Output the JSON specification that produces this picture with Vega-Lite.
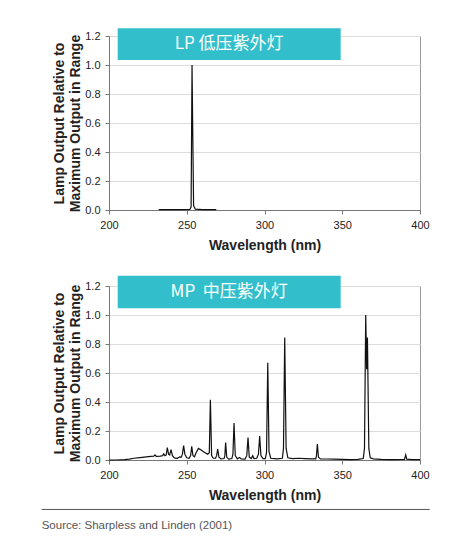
{
  "$schema": "https://vega.github.io/schema/vega-lite/v6.json",
  "padding": {"left": 40, "top": 27, "right": 5, "bottom": 5},
  "bounds": "flush",
  "spacing": 76,
  "datasets": {
    "lp": [
      {"wl": 232, "out": 0.002}, {"wl": 240, "out": 0.002}, {"wl": 248, "out": 0.003},
      {"wl": 252, "out": 0.004}, {"wl": 252.8, "out": 0.02}, {"wl": 253.4, "out": 1.0},
      {"wl": 253.9, "out": 0.5}, {"wl": 254.4, "out": 0.03}, {"wl": 255.5, "out": 0.006},
      {"wl": 260, "out": 0.003}, {"wl": 265, "out": 0.002}, {"wl": 269, "out": 0.002}
    ],
    "mp": [
      {"wl": 200, "out": 0}, {"wl": 205, "out": 0}, {"wl": 210, "out": 0.002},
      {"wl": 213, "out": 0.006}, {"wl": 216, "out": 0.012}, {"wl": 220, "out": 0.017},
      {"wl": 224, "out": 0.022}, {"wl": 227, "out": 0.025}, {"wl": 228.8, "out": 0.026},
      {"wl": 229.6, "out": 0.035}, {"wl": 230.4, "out": 0.025}, {"wl": 233, "out": 0.027},
      {"wl": 234.5, "out": 0.03}, {"wl": 235.2, "out": 0.042}, {"wl": 236, "out": 0.03},
      {"wl": 236.8, "out": 0.035}, {"wl": 237.5, "out": 0.085}, {"wl": 238.3, "out": 0.04},
      {"wl": 239, "out": 0.035}, {"wl": 239.9, "out": 0.072}, {"wl": 240.8, "out": 0.03},
      {"wl": 242, "out": 0.015}, {"wl": 244, "out": 0.012}, {"wl": 245.5, "out": 0.022},
      {"wl": 246.5, "out": 0.02}, {"wl": 247.2, "out": 0.04}, {"wl": 248, "out": 0.1},
      {"wl": 248.8, "out": 0.04}, {"wl": 250, "out": 0.015}, {"wl": 251.5, "out": 0.012},
      {"wl": 252.5, "out": 0.03}, {"wl": 253.2, "out": 0.094}, {"wl": 254, "out": 0.03},
      {"wl": 255, "out": 0.022}, {"wl": 256, "out": 0.05}, {"wl": 257.5, "out": 0.08},
      {"wl": 259, "out": 0.07}, {"wl": 261, "out": 0.055}, {"wl": 263.5, "out": 0.04},
      {"wl": 264.5, "out": 0.05}, {"wl": 265.2, "out": 0.415}, {"wl": 266, "out": 0.03},
      {"wl": 267, "out": 0.012}, {"wl": 268.5, "out": 0.012}, {"wl": 269.2, "out": 0.03},
      {"wl": 269.9, "out": 0.075}, {"wl": 270.7, "out": 0.02}, {"wl": 272, "out": 0.008},
      {"wl": 274, "out": 0.01}, {"wl": 274.5, "out": 0.03}, {"wl": 275, "out": 0.12},
      {"wl": 275.7, "out": 0.02}, {"wl": 277, "out": 0.006}, {"wl": 279, "out": 0.01},
      {"wl": 279.7, "out": 0.04}, {"wl": 280.4, "out": 0.255}, {"wl": 281.2, "out": 0.03},
      {"wl": 282.5, "out": 0.008}, {"wl": 284, "out": 0.018}, {"wl": 285, "out": 0.008},
      {"wl": 287.5, "out": 0.006}, {"wl": 288.6, "out": 0.03}, {"wl": 289.4, "out": 0.155},
      {"wl": 290.2, "out": 0.02}, {"wl": 291.5, "out": 0.01}, {"wl": 292.4, "out": 0.03},
      {"wl": 293.2, "out": 0.01}, {"wl": 295, "out": 0.012}, {"wl": 296.1, "out": 0.04},
      {"wl": 296.9, "out": 0.165}, {"wl": 297.7, "out": 0.03}, {"wl": 299, "out": 0.01},
      {"wl": 300.5, "out": 0.01}, {"wl": 301.3, "out": 0.05}, {"wl": 302.1, "out": 0.67},
      {"wl": 302.9, "out": 0.06}, {"wl": 304, "out": 0.012}, {"wl": 308, "out": 0.008},
      {"wl": 311.5, "out": 0.012}, {"wl": 312.2, "out": 0.08}, {"wl": 313, "out": 0.844},
      {"wl": 313.9, "out": 0.08}, {"wl": 315, "out": 0.015}, {"wl": 318, "out": 0.01},
      {"wl": 322, "out": 0.012}, {"wl": 326, "out": 0.01}, {"wl": 330, "out": 0.008},
      {"wl": 333, "out": 0.008}, {"wl": 333.4, "out": 0.03}, {"wl": 334, "out": 0.11},
      {"wl": 334.7, "out": 0.02}, {"wl": 336, "out": 0.008}, {"wl": 340, "out": 0.007},
      {"wl": 345, "out": 0.006}, {"wl": 350, "out": 0.004}, {"wl": 355, "out": 0.003},
      {"wl": 360, "out": 0.004}, {"wl": 363.5, "out": 0.01}, {"wl": 364.3, "out": 0.08},
      {"wl": 365.1, "out": 1.0}, {"wl": 365.7, "out": 0.626}, {"wl": 366.2, "out": 0.844},
      {"wl": 367.1, "out": 0.08}, {"wl": 368, "out": 0.015}, {"wl": 370, "out": 0.008},
      {"wl": 375, "out": 0.004}, {"wl": 380, "out": 0.003}, {"wl": 385, "out": 0.003},
      {"wl": 390, "out": 0.004}, {"wl": 390.8, "out": 0.036}, {"wl": 391.5, "out": 0.006},
      {"wl": 395, "out": 0.003}, {"wl": 400, "out": 0.003}
    ]
  },
  "vconcat": [
    {
      "width": 311,
      "height": 174,
      "layer": [
        {
          "data": {"name": "lp"},
          "mark": {"type": "line", "color": "#111111", "strokeWidth": 1.2},
          "encoding": {
            "x": {"field": "wl", "type": "quantitative", "scale": {"domain": [200, 400]},
                  "axis": {"values": [200, 250, 300, 350, 400]}, "title": "Wavelength (nm)"},
            "y": {"field": "out", "type": "quantitative", "scale": {"domain": [0, 1.2], "nice": false},
                  "axis": {"values": [0, 0.2, 0.4, 0.6, 0.8, 1.0, 1.2], "format": ".1f"},
                  "title": ["Lamp Output Relative to", "Maximum Output in Range"]}
          }
        },
        {
          "data": {"values": [{}]},
          "mark": {"type": "rect", "color": "#32bfcb"},
          "encoding": {
            "x": {"datum": 205.6, "type": "quantitative"},
            "x2": {"datum": 349.0},
            "y": {"datum": 1.034, "type": "quantitative"},
            "y2": {"datum": 1.253}
          }
        },
        {
          "data": {"values": [{"label": "LP 低压紫外灯"}]},
          "mark": {"type": "text", "color": "white", "font": "Noto Sans CJK SC", "fontSize": 17, "baseline": "middle"},
          "encoding": {
            "text": {"field": "label"},
            "x": {"datum": 277.3, "type": "quantitative"},
            "y": {"datum": 1.143, "type": "quantitative"}
          }
        }
      ]
    },
    {
      "width": 311,
      "height": 174,
      "layer": [
        {
          "data": {"name": "mp"},
          "mark": {"type": "line", "color": "#111111", "strokeWidth": 1.2},
          "encoding": {
            "x": {"field": "wl", "type": "quantitative", "scale": {"domain": [200, 400]},
                  "axis": {"values": [200, 250, 300, 350, 400]}, "title": "Wavelength (nm)"},
            "y": {"field": "out", "type": "quantitative", "scale": {"domain": [0, 1.2], "nice": false},
                  "axis": {"values": [0, 0.2, 0.4, 0.6, 0.8, 1.0, 1.2], "format": ".1f"},
                  "title": ["Lamp Output Relative to", "Maximum Output in Range"]}
          }
        },
        {
          "data": {"values": [{}]},
          "mark": {"type": "rect", "color": "#32bfcb"},
          "encoding": {
            "x": {"datum": 205.6, "type": "quantitative"},
            "x2": {"datum": 349.0},
            "y": {"datum": 1.046, "type": "quantitative"},
            "y2": {"datum": 1.271}
          }
        },
        {
          "data": {"values": [{"label": "MP\u00a0\u00a0中压紫外灯"}]},
          "mark": {"type": "text", "color": "white", "font": "Noto Sans CJK SC", "fontSize": 17, "baseline": "middle"},
          "encoding": {
            "text": {"field": "label"},
            "x": {"datum": 277.3, "type": "quantitative"},
            "y": {"datum": 1.158, "type": "quantitative"}
          }
        },
        {
          "data": {"values": [{}]},
          "mark": {"type": "rule", "color": "#555555", "strokeWidth": 1},
          "encoding": {
            "x": {"datum": 156.7, "type": "quantitative"},
            "x2": {"datum": 406.2},
            "y": {"datum": -0.341, "type": "quantitative"}
          }
        },
        {
          "data": {"values": [{"label": "Source: Sharpless and Linden (2001)"}]},
          "mark": {"type": "text", "color": "#555555", "font": "Liberation Sans", "fontSize": 11.5, "align": "left", "baseline": "middle"},
          "encoding": {
            "text": {"field": "label"},
            "x": {"datum": 156.7, "type": "quantitative"},
            "y": {"datum": -0.453, "type": "quantitative"}
          }
        }
      ]
    }
  ],
  "config": {
    "view": {"stroke": "#9a9a9a"},
    "axis": {
      "labelFont": "Liberation Sans",
      "titleFont": "Liberation Sans",
      "labelFontSize": 11,
      "labelColor": "#222222",
      "titleColor": "#222222",
      "domainColor": "#777777",
      "tickColor": "#777777",
      "tickSize": 4,
      "gridColor": "#dcdcdc",
      "titleFontWeight": "bold",
      "labelOverlap": false,
      "labelFlush": false
    },
    "axisX": {"grid": false, "tickCount": 5, "labelPadding": 5, "titleFontSize": 14, "titlePadding": 8},
    "axisY": {"grid": true, "tickCount": 7, "format": ".1f", "labelPadding": 5, "titleFontSize": 14, "titleLineHeight": 16, "titlePadding": 2}
  }
}
